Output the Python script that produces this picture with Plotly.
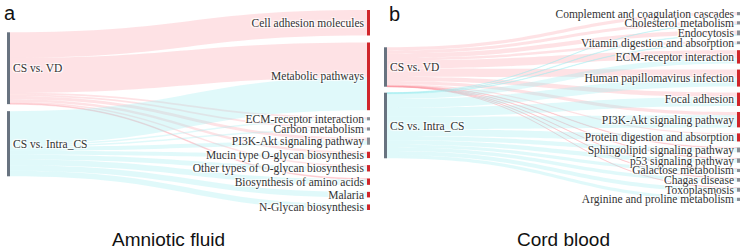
import plotly.graph_objects as go

# ---------- panel a: Amniotic fluid ----------
a_sources = ["CS vs. VD", "CS vs. Intra_CS"]
a_targets = ["Cell adhesion molecules", "Metabolic pathways", "ECM-receptor interaction",
             "Carbon metabolism", "PI3K-Akt signaling pathway", "Mucin type O-glycan biosynthesis",
             "Other types of O-glycan biosynthesis", "Biosynthesis of amino acids", "Malaria",
             "N-Glycan biosynthesis"]
a_target_up = [1, 1, 0, 0, 0, 1, 1, 1, 1, 1]
a_vd = [32, 44, 2.2, 2, 4, 3, 2, 1, 0, 0]
a_intra = [0, 41, 1.8, 2, 5, 5, 6, 7, 7, 7]

# ---------- panel b: Cord blood ----------
b_sources = ["CS vs. VD", "CS vs. Intra_CS"]
b_targets = ["Complement and coagulation cascades", "Cholesterol metabolism", "Endocytosis",
             "Vitamin digestion and absorption", "ECM-receptor interaction",
             "Human papillomavirus infection", "Focal adhesion", "PI3K-Akt signaling pathway",
             "Protein digestion and absorption", "Sphingolipid signaling pathway",
             "p53 signaling pathway", "Galactose metabolism", "Chagas disease", "Toxoplasmosis",
             "Arginine and proline metabolism"]
b_target_up = [0, 0, 0, 0, 1, 1, 1, 1, 1, 0, 0, 0, 0, 0, 0]
b_vd = [8, 7.6, 10.8, 6, 20, 20, 11, 8, 3, 1.2, 0.8, 0.4, 0.3, 0.15, 0]
b_intra = [0, 0.4, 1.2, 1, 13, 22, 22, 30, 17, 10.8, 10.2, 7.6, 8.7, 9.85, 8]

SRC_COL = "#687380"
UP_COL = "#d0262b"
GREY_COL = "#8a8f96"
LINK_COLS = ["rgba(250,150,160,0.28)", "rgba(160,235,240,0.32)"]
SERIF = "Liberation Serif, Times New Roman, serif"
SANS = "Liberation Sans, Arial, sans-serif"

W, H = 744, 249


def px_x(x):
    return x / W


def px_y(y):
    return 1 - y / H


def build(sources, targets, up, vd, intra, domain, pad):
    labels = sources + targets
    ns = len(sources)
    src, tgt, val, col = [], [], [], []
    for si, vals in enumerate([vd, intra]):
        for ti, v in enumerate(vals):
            if v > 0:
                src.append(si)
                tgt.append(ns + ti)
                val.append(v)
                col.append(LINK_COLS[si])
    ncol = [SRC_COL] * ns + [UP_COL if u else GREY_COL for u in up]
    return go.Sankey(
        domain=domain,
        arrangement="snap",
        node=dict(label=labels, color=ncol, pad=pad, thickness=3,
                  line=dict(width=0)),
        link=dict(source=src, target=tgt, value=val, color=col),
        textfont=dict(family=SERIF, size=11.5, color="#333333"),
    )


fig = go.Figure()
fig.add_trace(build(a_sources, a_targets, a_target_up, a_vd, a_intra,
                    dict(x=[px_x(7), px_x(370)], y=[px_y(210), px_y(10)]), 7))
fig.add_trace(build(b_sources, b_targets, b_target_up, b_vd, b_intra,
                    dict(x=[px_x(384), px_x(740)], y=[px_y(201), px_y(12)]), 6))

ann_font = dict(family=SANS, color="#111111")
fig.update_layout(
    width=W, height=H,
    margin=dict(l=0, r=0, t=0, b=0),
    paper_bgcolor="white",
    font=dict(family=SERIF),
    showlegend=False,
    annotations=[
        dict(text="a", x=px_x(10), y=px_y(13), xref="paper", yref="paper",
             xanchor="center", yanchor="middle", showarrow=False, font=dict(size=20, **ann_font)),
        dict(text="b", x=px_x(394), y=px_y(14), xref="paper", yref="paper",
             xanchor="center", yanchor="middle", showarrow=False, font=dict(size=20, **ann_font)),
        dict(text="Amniotic fluid", x=px_x(168), y=px_y(239), xref="paper", yref="paper",
             xanchor="center", yanchor="middle", showarrow=False, font=dict(size=19, **ann_font)),
        dict(text="Cord blood", x=px_x(563), y=px_y(239), xref="paper", yref="paper",
             xanchor="center", yanchor="middle", showarrow=False, font=dict(size=19, **ann_font)),
    ],
)

fig.write_html("out.html", config={"displayModeBar": False},
               post_script="document.body.style.margin='0';")
